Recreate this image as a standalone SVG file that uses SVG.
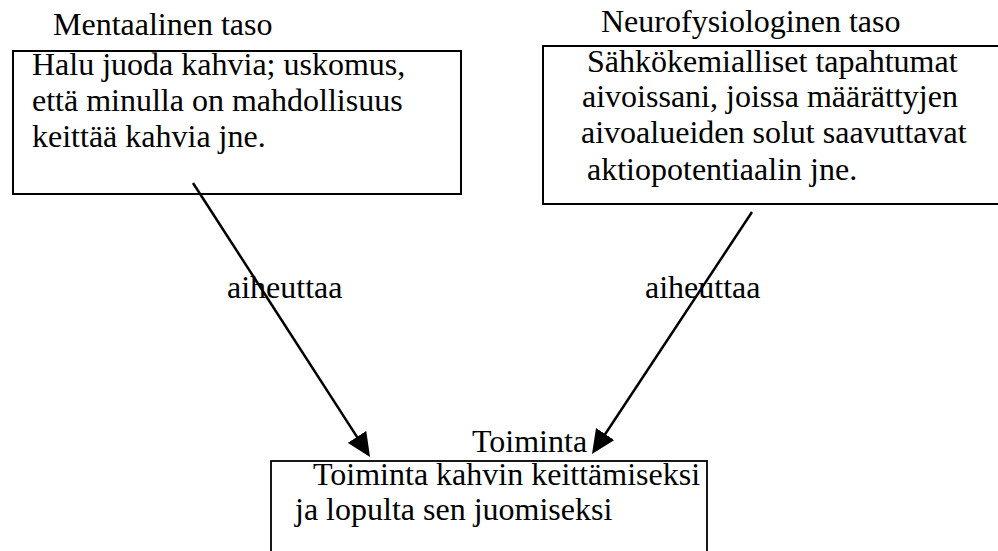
<svg xmlns="http://www.w3.org/2000/svg" width="998" height="551" viewBox="0 0 998 551">
<style>
  text { font-family: 'Liberation Serif', 'Times New Roman', 'DejaVu Serif', serif; font-size: 32px; fill: #000; }
  .box { fill: none; stroke: #000; stroke-width: 2; }
  .conn { stroke: #000; stroke-width: 2.5; fill: none; }
</style>
<defs>
  <marker id="ah" markerUnits="userSpaceOnUse" markerWidth="24" markerHeight="22" refX="14" refY="11" orient="auto">
    <path d="M0,0 L24,11 L0,22 z" fill="#000"/>
  </marker>
</defs>
<rect width="998" height="551" fill="#fff"/>
<g id="mental">
  <text x="53" y="35">Mentaalinen taso</text>
  <rect class="box" x="13" y="51" width="448" height="143"/>
  <text x="32" y="75">Halu juoda kahvia; uskomus,</text>
  <text x="32" y="111">että minulla on mahdollisuus</text>
  <text x="32" y="147">keittää kahvia jne.</text>
</g>
<g id="neuro">
  <text x="601" y="32">Neurofysiologinen taso</text>
  <rect class="box" x="543" y="46" width="470" height="158"/>
  <text x="587" y="72">Sähkökemialliset tapahtumat</text>
  <text x="582" y="107">aivoissani, joissa määrättyjen</text>
  <text x="581" y="143">aivoalueiden solut saavuttavat</text>
  <text x="587" y="180">aktiopotentiaalin jne.</text>
</g>
<g id="action">
  <text x="472" y="452">Toiminta</text>
  <rect class="box" x="271" y="461" width="436" height="100" style="stroke-width:1.8"/>
  <text x="313" y="485">Toiminta kahvin keittämiseksi</text>
  <text x="295" y="520">ja lopulta sen juomiseksi</text>
</g>
<g id="connectors">
  <line class="conn" x1="193" y1="183" x2="364.6" y2="448.6" marker-end="url(#ah)"/>
  <line class="conn" x1="752" y1="212" x2="597.5" y2="445.7" marker-end="url(#ah)"/>
  <text x="227" y="298">aiheuttaa</text>
  <text x="645" y="298">aiheuttaa</text>
</g>
</svg>
